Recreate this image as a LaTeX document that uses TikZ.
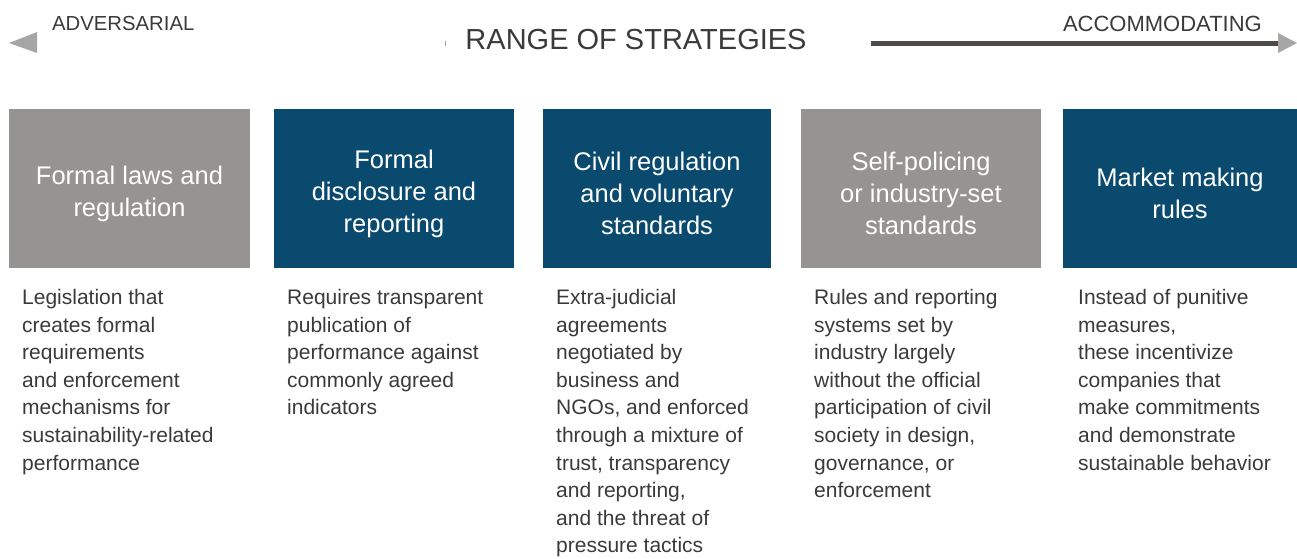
\documentclass[tikz,border=0pt]{standalone}
\usepackage{fontspec}
\setmainfont{Liberation Sans}
\definecolor{boxgray}{HTML}{969492}
\definecolor{boxblue}{HTML}{0A4A6E}
\definecolor{txtgray}{HTML}{3A3A3A}
\definecolor{headgray}{HTML}{4D4A48}
\definecolor{tipgray}{HTML}{A6A6A6}
\tikzset{
  headbox/.style={minimum height=159, inner sep=0pt},
  graybox/.style={headbox, fill=boxgray},
  bluebox/.style={headbox, fill=boxblue},
  headtext/.style={inner sep=0pt, text=white, align=center,
    font=\fontsize{25.5}{32}\selectfont},
  bodytext/.style={anchor=north west, inner sep=0pt, align=left, text=txtgray,
    font=\fontsize{21}{27.6}\selectfont},
  scalelabel/.style={inner sep=0pt, text=txtgray}
}
\begin{document}
\begin{tikzpicture}[x=1pt, y=-1pt]
        \useasboundingbox (0, 0) rectangle (1297, 558);

        % scale of strategies
        \fill [tipgray] (9, 43) -- (37, 32) -- (37, 53) -- cycle;
        \draw [tipgray, line width=1pt] (445, 41) -- (445, 46);
        \draw [headgray, line width=5pt] (871, 43) -- (1286, 43);
        \fill [tipgray] (1297, 43) -- (1278, 33) -- (1278, 53) -- cycle;
        \node [scalelabel, anchor=west, font=\fontsize{20.3}{22}\selectfont] (adv) at (52, 24) {ADVERSARIAL};
        \node [scalelabel, anchor=east, font=\fontsize{22}{24}\selectfont] (acc) at (1262, 24) {ACCOMMODATING};
        \node [scalelabel, font=\fontsize{29}{30}\selectfont] (range) at (636, 40) {RANGE OF STRATEGIES};

        % strategy boxes
        \node [graybox, minimum width=241] (laws) at (129.5, 188.5) {};
        \node [bluebox, minimum width=240] (disc) at (394, 188.5) {};
        \node [bluebox, minimum width=228] (civil) at (657, 188.5) {};
        \node [graybox, minimum width=240] (self) at (921, 188.5) {};
        \node [bluebox, minimum width=234] (market) at (1180, 188.5) {};
        \node [headtext, yshift=-5pt] (lawshead) at (laws) {Formal laws and\\regulation};
        \node [headtext, yshift=-5pt] (dischead) at (disc) {Formal\\disclosure and\\reporting};
        \node [headtext, yshift=-5pt] (civilhead) at (civil) {Civil regulation\\and voluntary\\standards};
        \node [headtext, yshift=-5pt] (selfhead) at (self) {Self-policing\\or industry-set\\standards};
        \node [headtext, yshift=-5pt] (markethead) at (market) {Market making\\rules};

        % descriptions
        \node [bodytext] (lawstext) at (22, 289) {Legislation that\\creates formal\\requirements\\and enforcement\\mechanisms for\\sustainability-related\\performance};
        \node [bodytext] (disctext) at (287, 289) {Requires transparent\\publication of\\performance against\\commonly agreed\\indicators};
        \node [bodytext] (civiltext) at (556, 289) {Extra-judicial\\agreements\\negotiated by\\business and\\NGOs, and enforced\\through a mixture of\\trust, transparency\\and reporting,\\and the threat of\\pressure tactics};
        \node [bodytext] (selftext) at (814, 289) {Rules and reporting\\systems set by\\industry largely\\without the official\\participation of civil\\society in design,\\governance, or\\enforcement};
        \node [bodytext] (markettext) at (1078, 289) {Instead of punitive\\measures,\\these incentivize\\companies that\\make commitments\\and demonstrate\\sustainable behavior};
      \end{tikzpicture}
\end{document}
